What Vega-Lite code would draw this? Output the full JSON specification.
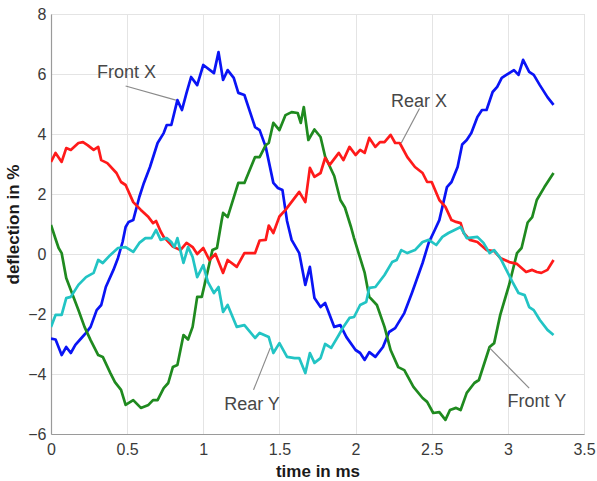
{
  "$schema": "https://vega.github.io/schema/vega-lite/v6.json",
  "width": 533,
  "height": 420,
  "autosize": {"type": "none"},
  "padding": {"left": 51, "top": 14, "right": 13, "bottom": 47},
  "background": "white",
  "config": {
    "view": {"stroke": "#cccccc", "strokeWidth": 1},
    "font": "Liberation Sans",
    "axis": {
      "grid": true, "gridColor": "#e4e4e4", "gridWidth": 1,
      "domainColor": "#9a9a9a", "domainWidth": 1.2,
      "ticks": false, "labelFlush": false, "labelOverlap": false,
      "labelFont": "Liberation Sans", "labelFontSize": 16, "labelColor": "#3a3a3a",
      "titleFont": "Liberation Sans", "titleFontSize": 17, "titleFontWeight": "bold", "titleColor": "#1a1a1a"
    }
  },
  "datasets": {
    "series": [
      {"s":"Front X","t":0,"v":-2.82},{"s":"Front X","t":0.03,"v":-2.85},{"s":"Front X","t":0.07,"v":-3.37},{"s":"Front X","t":0.1,"v":-3.1},{"s":"Front X","t":0.13,"v":-3.3},{"s":"Front X","t":0.16,"v":-3.03},{"s":"Front X","t":0.2,"v":-2.8},{"s":"Front X","t":0.23,"v":-2.63},{"s":"Front X","t":0.26,"v":-2.43},{"s":"Front X","t":0.3,"v":-1.87},{"s":"Front X","t":0.33,"v":-1.7},{"s":"Front X","t":0.36,"v":-1.1},{"s":"Front X","t":0.41,"v":-0.53},{"s":"Front X","t":0.44,"v":-0.13},{"s":"Front X","t":0.47,"v":0.4},{"s":"Front X","t":0.49,"v":0.9},{"s":"Front X","t":0.51,"v":1.07},{"s":"Front X","t":0.54,"v":1.13},{"s":"Front X","t":0.58,"v":1.9},{"s":"Front X","t":0.61,"v":2.37},{"s":"Front X","t":0.65,"v":2.9},{"s":"Front X","t":0.7,"v":3.7},{"s":"Front X","t":0.74,"v":4.03},{"s":"Front X","t":0.76,"v":4.3},{"s":"Front X","t":0.79,"v":4.3},{"s":"Front X","t":0.83,"v":5.13},{"s":"Front X","t":0.86,"v":4.8},{"s":"Front X","t":0.89,"v":5.37},{"s":"Front X","t":0.92,"v":5.9},{"s":"Front X","t":0.96,"v":5.63},{"s":"Front X","t":1.0,"v":6.3},{"s":"Front X","t":1.07,"v":6.03},{"s":"Front X","t":1.1,"v":6.73},{"s":"Front X","t":1.13,"v":5.8},{"s":"Front X","t":1.16,"v":6.13},{"s":"Front X","t":1.2,"v":5.87},{"s":"Front X","t":1.23,"v":5.37},{"s":"Front X","t":1.27,"v":5.3},{"s":"Front X","t":1.34,"v":4.23},{"s":"Front X","t":1.37,"v":4.13},{"s":"Front X","t":1.41,"v":3.57},{"s":"Front X","t":1.46,"v":2.37},{"s":"Front X","t":1.49,"v":2.2},{"s":"Front X","t":1.52,"v":2.13},{"s":"Front X","t":1.55,"v":1.1},{"s":"Front X","t":1.58,"v":0.47},{"s":"Front X","t":1.63,"v":0.03},{"s":"Front X","t":1.67,"v":-1.03},{"s":"Front X","t":1.7,"v":-0.43},{"s":"Front X","t":1.73,"v":-1.47},{"s":"Front X","t":1.77,"v":-1.77},{"s":"Front X","t":1.8,"v":-1.63},{"s":"Front X","t":1.86,"v":-2.43},{"s":"Front X","t":1.9,"v":-2.37},{"s":"Front X","t":1.94,"v":-2.77},{"s":"Front X","t":2.0,"v":-3.2},{"s":"Front X","t":2.03,"v":-3.3},{"s":"Front X","t":2.06,"v":-3.53},{"s":"Front X","t":2.09,"v":-3.27},{"s":"Front X","t":2.13,"v":-3.43},{"s":"Front X","t":2.18,"v":-3.1},{"s":"Front X","t":2.22,"v":-2.6},{"s":"Front X","t":2.26,"v":-2.47},{"s":"Front X","t":2.32,"v":-1.97},{"s":"Front X","t":2.37,"v":-1.3},{"s":"Front X","t":2.44,"v":-0.3},{"s":"Front X","t":2.48,"v":0.37},{"s":"Front X","t":2.52,"v":0.8},{"s":"Front X","t":2.55,"v":1.13},{"s":"Front X","t":2.6,"v":2.23},{"s":"Front X","t":2.63,"v":2.4},{"s":"Front X","t":2.67,"v":2.9},{"s":"Front X","t":2.7,"v":3.65},{"s":"Front X","t":2.73,"v":3.8},{"s":"Front X","t":2.76,"v":4.03},{"s":"Front X","t":2.8,"v":4.57},{"s":"Front X","t":2.83,"v":4.8},{"s":"Front X","t":2.86,"v":4.8},{"s":"Front X","t":2.9,"v":5.4},{"s":"Front X","t":2.93,"v":5.57},{"s":"Front X","t":2.96,"v":5.87},{"s":"Front X","t":2.99,"v":5.97},{"s":"Front X","t":3.04,"v":6.13},{"s":"Front X","t":3.07,"v":5.97},{"s":"Front X","t":3.1,"v":6.47},{"s":"Front X","t":3.14,"v":6.07},{"s":"Front X","t":3.17,"v":5.97},{"s":"Front X","t":3.21,"v":5.63},{"s":"Front X","t":3.26,"v":5.23},{"s":"Front X","t":3.3,"v":4.97},

      {"s":"Front Y","t":0,"v":0.97},{"s":"Front Y","t":0.03,"v":0.5},{"s":"Front Y","t":0.05,"v":0.2},{"s":"Front Y","t":0.07,"v":0.03},{"s":"Front Y","t":0.1,"v":-0.8},{"s":"Front Y","t":0.13,"v":-1.2},{"s":"Front Y","t":0.18,"v":-1.87},{"s":"Front Y","t":0.22,"v":-2.43},{"s":"Front Y","t":0.26,"v":-2.87},{"s":"Front Y","t":0.31,"v":-3.37},{"s":"Front Y","t":0.34,"v":-3.43},{"s":"Front Y","t":0.39,"v":-3.97},{"s":"Front Y","t":0.42,"v":-4.27},{"s":"Front Y","t":0.46,"v":-4.53},{"s":"Front Y","t":0.49,"v":-5.03},{"s":"Front Y","t":0.54,"v":-4.87},{"s":"Front Y","t":0.59,"v":-5.13},{"s":"Front Y","t":0.64,"v":-5.03},{"s":"Front Y","t":0.67,"v":-4.87},{"s":"Front Y","t":0.7,"v":-4.87},{"s":"Front Y","t":0.74,"v":-4.47},{"s":"Front Y","t":0.77,"v":-4.3},{"s":"Front Y","t":0.8,"v":-3.77},{"s":"Front Y","t":0.83,"v":-3.7},{"s":"Front Y","t":0.87,"v":-2.7},{"s":"Front Y","t":0.9,"v":-2.85},{"s":"Front Y","t":0.93,"v":-2.43},{"s":"Front Y","t":0.96,"v":-1.43},{"s":"Front Y","t":0.99,"v":-1.43},{"s":"Front Y","t":1.02,"v":-0.77},{"s":"Front Y","t":1.06,"v":0.13},{"s":"Front Y","t":1.09,"v":0.2},{"s":"Front Y","t":1.12,"v":1.1},{"s":"Front Y","t":1.13,"v":1.37},{"s":"Front Y","t":1.16,"v":1.23},{"s":"Front Y","t":1.23,"v":2.37},{"s":"Front Y","t":1.27,"v":2.37},{"s":"Front Y","t":1.34,"v":3.23},{"s":"Front Y","t":1.37,"v":3.23},{"s":"Front Y","t":1.41,"v":3.63},{"s":"Front Y","t":1.43,"v":3.7},{"s":"Front Y","t":1.46,"v":4.37},{"s":"Front Y","t":1.5,"v":4.13},{"s":"Front Y","t":1.54,"v":4.63},{"s":"Front Y","t":1.58,"v":4.73},{"s":"Front Y","t":1.62,"v":4.7},{"s":"Front Y","t":1.64,"v":4.37},{"s":"Front Y","t":1.66,"v":4.9},{"s":"Front Y","t":1.69,"v":3.8},{"s":"Front Y","t":1.73,"v":4.15},{"s":"Front Y","t":1.77,"v":3.9},{"s":"Front Y","t":1.8,"v":3.25},{"s":"Front Y","t":1.86,"v":2.6},{"s":"Front Y","t":1.9,"v":1.8},{"s":"Front Y","t":1.93,"v":1.55},{"s":"Front Y","t":1.97,"v":0.9},{"s":"Front Y","t":1.99,"v":0.53},{"s":"Front Y","t":2.02,"v":0.03},{"s":"Front Y","t":2.06,"v":-0.63},{"s":"Front Y","t":2.09,"v":-1.43},{"s":"Front Y","t":2.14,"v":-1.7},{"s":"Front Y","t":2.19,"v":-2.43},{"s":"Front Y","t":2.23,"v":-3.2},{"s":"Front Y","t":2.28,"v":-3.77},{"s":"Front Y","t":2.32,"v":-3.87},{"s":"Front Y","t":2.38,"v":-4.43},{"s":"Front Y","t":2.44,"v":-4.8},{"s":"Front Y","t":2.47,"v":-4.93},{"s":"Front Y","t":2.51,"v":-5.3},{"s":"Front Y","t":2.55,"v":-5.27},{"s":"Front Y","t":2.59,"v":-5.53},{"s":"Front Y","t":2.62,"v":-5.2},{"s":"Front Y","t":2.66,"v":-5.13},{"s":"Front Y","t":2.69,"v":-5.2},{"s":"Front Y","t":2.73,"v":-4.63},{"s":"Front Y","t":2.78,"v":-4.3},{"s":"Front Y","t":2.81,"v":-4.2},{"s":"Front Y","t":2.88,"v":-3.1},{"s":"Front Y","t":2.91,"v":-2.97},{"s":"Front Y","t":2.95,"v":-2.03},{"s":"Front Y","t":3.01,"v":-1.0},{"s":"Front Y","t":3.06,"v":0.03},{"s":"Front Y","t":3.09,"v":0.2},{"s":"Front Y","t":3.13,"v":1.05},{"s":"Front Y","t":3.16,"v":1.23},{"s":"Front Y","t":3.19,"v":1.8},{"s":"Front Y","t":3.24,"v":2.23},{"s":"Front Y","t":3.3,"v":2.7},

      {"s":"Rear X","t":0,"v":3.07},{"s":"Rear X","t":0.03,"v":3.37},{"s":"Rear X","t":0.07,"v":3.07},{"s":"Rear X","t":0.1,"v":3.53},{"s":"Rear X","t":0.13,"v":3.47},{"s":"Rear X","t":0.18,"v":3.7},{"s":"Rear X","t":0.21,"v":3.73},{"s":"Rear X","t":0.24,"v":3.63},{"s":"Rear X","t":0.28,"v":3.47},{"s":"Rear X","t":0.31,"v":3.57},{"s":"Rear X","t":0.33,"v":3.13},{"s":"Rear X","t":0.37,"v":3.03},{"s":"Rear X","t":0.43,"v":2.7},{"s":"Rear X","t":0.46,"v":2.4},{"s":"Rear X","t":0.49,"v":2.3},{"s":"Rear X","t":0.54,"v":1.73},{"s":"Rear X","t":0.59,"v":1.47},{"s":"Rear X","t":0.64,"v":1.23},{"s":"Rear X","t":0.67,"v":1.03},{"s":"Rear X","t":0.69,"v":1.1},{"s":"Rear X","t":0.72,"v":0.75},{"s":"Rear X","t":0.74,"v":0.57},{"s":"Rear X","t":0.8,"v":0.25},{"s":"Rear X","t":0.85,"v":0.13},{"s":"Rear X","t":0.89,"v":0.37},{"s":"Rear X","t":0.93,"v":0.23},{"s":"Rear X","t":0.96,"v":0.0},{"s":"Rear X","t":1.0,"v":0.2},{"s":"Rear X","t":1.04,"v":-0.2},{"s":"Rear X","t":1.08,"v":0.0},{"s":"Rear X","t":1.13,"v":-0.63},{"s":"Rear X","t":1.16,"v":-0.2},{"s":"Rear X","t":1.22,"v":-0.43},{"s":"Rear X","t":1.27,"v":0.03},{"s":"Rear X","t":1.34,"v":0.03},{"s":"Rear X","t":1.37,"v":0.45},{"s":"Rear X","t":1.41,"v":0.47},{"s":"Rear X","t":1.43,"v":0.95},{"s":"Rear X","t":1.46,"v":0.7},{"s":"Rear X","t":1.5,"v":1.25},{"s":"Rear X","t":1.54,"v":1.47},{"s":"Rear X","t":1.63,"v":2.07},{"s":"Rear X","t":1.67,"v":1.73},{"s":"Rear X","t":1.7,"v":2.87},{"s":"Rear X","t":1.73,"v":2.57},{"s":"Rear X","t":1.77,"v":2.7},{"s":"Rear X","t":1.8,"v":3.2},{"s":"Rear X","t":1.83,"v":2.97},{"s":"Rear X","t":1.89,"v":3.37},{"s":"Rear X","t":1.92,"v":3.13},{"s":"Rear X","t":1.96,"v":3.57},{"s":"Rear X","t":2.0,"v":3.3},{"s":"Rear X","t":2.03,"v":3.47},{"s":"Rear X","t":2.06,"v":3.37},{"s":"Rear X","t":2.09,"v":3.87},{"s":"Rear X","t":2.13,"v":3.57},{"s":"Rear X","t":2.16,"v":3.73},{"s":"Rear X","t":2.19,"v":3.73},{"s":"Rear X","t":2.23,"v":3.97},{"s":"Rear X","t":2.26,"v":3.7},{"s":"Rear X","t":2.29,"v":3.7},{"s":"Rear X","t":2.34,"v":3.23},{"s":"Rear X","t":2.39,"v":2.9},{"s":"Rear X","t":2.44,"v":2.7},{"s":"Rear X","t":2.47,"v":2.4},{"s":"Rear X","t":2.5,"v":2.4},{"s":"Rear X","t":2.55,"v":1.8},{"s":"Rear X","t":2.59,"v":1.57},{"s":"Rear X","t":2.63,"v":1.13},{"s":"Rear X","t":2.66,"v":1.07},{"s":"Rear X","t":2.69,"v":1.03},{"s":"Rear X","t":2.71,"v":0.7},{"s":"Rear X","t":2.75,"v":0.47},{"s":"Rear X","t":2.8,"v":0.4},{"s":"Rear X","t":2.86,"v":0.13},{"s":"Rear X","t":2.91,"v":0.1},{"s":"Rear X","t":2.95,"v":-0.13},{"s":"Rear X","t":3.01,"v":-0.27},{"s":"Rear X","t":3.06,"v":-0.33},{"s":"Rear X","t":3.12,"v":-0.6},{"s":"Rear X","t":3.16,"v":-0.53},{"s":"Rear X","t":3.19,"v":-0.6},{"s":"Rear X","t":3.22,"v":-0.63},{"s":"Rear X","t":3.26,"v":-0.53},{"s":"Rear X","t":3.3,"v":-0.2},

      {"s":"Rear Y","t":0,"v":-2.43},{"s":"Rear Y","t":0.03,"v":-2.03},{"s":"Rear Y","t":0.07,"v":-2.03},{"s":"Rear Y","t":0.1,"v":-1.47},{"s":"Rear Y","t":0.13,"v":-1.43},{"s":"Rear Y","t":0.18,"v":-1.03},{"s":"Rear Y","t":0.23,"v":-0.77},{"s":"Rear Y","t":0.28,"v":-0.63},{"s":"Rear Y","t":0.31,"v":-0.2},{"s":"Rear Y","t":0.34,"v":-0.3},{"s":"Rear Y","t":0.39,"v":-0.03},{"s":"Rear Y","t":0.44,"v":0.2},{"s":"Rear Y","t":0.49,"v":0.23},{"s":"Rear Y","t":0.54,"v":0.07},{"s":"Rear Y","t":0.58,"v":0.37},{"s":"Rear Y","t":0.62,"v":0.53},{"s":"Rear Y","t":0.66,"v":0.53},{"s":"Rear Y","t":0.69,"v":0.8},{"s":"Rear Y","t":0.72,"v":0.47},{"s":"Rear Y","t":0.76,"v":0.53},{"s":"Rear Y","t":0.79,"v":0.4},{"s":"Rear Y","t":0.81,"v":0.23},{"s":"Rear Y","t":0.83,"v":0.53},{"s":"Rear Y","t":0.87,"v":-0.3},{"s":"Rear Y","t":0.9,"v":0.23},{"s":"Rear Y","t":0.93,"v":-0.1},{"s":"Rear Y","t":0.96,"v":-0.77},{"s":"Rear Y","t":1.0,"v":-0.37},{"s":"Rear Y","t":1.03,"v":-0.93},{"s":"Rear Y","t":1.07,"v":-1.3},{"s":"Rear Y","t":1.1,"v":-1.1},{"s":"Rear Y","t":1.13,"v":-1.93},{"s":"Rear Y","t":1.16,"v":-1.7},{"s":"Rear Y","t":1.22,"v":-2.43},{"s":"Rear Y","t":1.27,"v":-2.37},{"s":"Rear Y","t":1.34,"v":-2.8},{"s":"Rear Y","t":1.37,"v":-2.63},{"s":"Rear Y","t":1.43,"v":-2.77},{"s":"Rear Y","t":1.46,"v":-3.3},{"s":"Rear Y","t":1.5,"v":-2.97},{"s":"Rear Y","t":1.55,"v":-3.43},{"s":"Rear Y","t":1.6,"v":-3.47},{"s":"Rear Y","t":1.63,"v":-3.47},{"s":"Rear Y","t":1.67,"v":-3.97},{"s":"Rear Y","t":1.7,"v":-3.3},{"s":"Rear Y","t":1.73,"v":-3.63},{"s":"Rear Y","t":1.77,"v":-3.47},{"s":"Rear Y","t":1.8,"v":-3.0},{"s":"Rear Y","t":1.84,"v":-3.13},{"s":"Rear Y","t":1.89,"v":-2.7},{"s":"Rear Y","t":1.92,"v":-2.43},{"s":"Rear Y","t":1.96,"v":-2.13},{"s":"Rear Y","t":1.99,"v":-2.1},{"s":"Rear Y","t":2.03,"v":-1.7},{"s":"Rear Y","t":2.07,"v":-1.6},{"s":"Rear Y","t":2.09,"v":-1.13},{"s":"Rear Y","t":2.13,"v":-1.1},{"s":"Rear Y","t":2.19,"v":-0.7},{"s":"Rear Y","t":2.24,"v":-0.27},{"s":"Rear Y","t":2.27,"v":-0.2},{"s":"Rear Y","t":2.3,"v":0.13},{"s":"Rear Y","t":2.34,"v":0.03},{"s":"Rear Y","t":2.39,"v":0.13},{"s":"Rear Y","t":2.44,"v":0.4},{"s":"Rear Y","t":2.48,"v":0.47},{"s":"Rear Y","t":2.53,"v":0.3},{"s":"Rear Y","t":2.57,"v":0.57},{"s":"Rear Y","t":2.61,"v":0.7},{"s":"Rear Y","t":2.65,"v":0.8},{"s":"Rear Y","t":2.69,"v":0.9},{"s":"Rear Y","t":2.73,"v":0.53},{"s":"Rear Y","t":2.8,"v":0.57},{"s":"Rear Y","t":2.84,"v":0.37},{"s":"Rear Y","t":2.88,"v":0.03},{"s":"Rear Y","t":2.91,"v":0.13},{"s":"Rear Y","t":2.95,"v":-0.13},{"s":"Rear Y","t":2.99,"v":-0.53},{"s":"Rear Y","t":3.03,"v":-0.93},{"s":"Rear Y","t":3.07,"v":-1.3},{"s":"Rear Y","t":3.11,"v":-1.37},{"s":"Rear Y","t":3.14,"v":-1.77},{"s":"Rear Y","t":3.17,"v":-1.87},{"s":"Rear Y","t":3.21,"v":-2.2},{"s":"Rear Y","t":3.26,"v":-2.53},{"s":"Rear Y","t":3.3,"v":-2.7}
    ],
    "labels": [
      {"label": "Front X", "t": 0.496, "v": 6.03, "t1": 0.49, "v1": 5.6, "t2": 0.82, "v2": 5.13},
      {"label": "Rear X", "t": 2.416, "v": 5.07, "t1": 2.42, "v1": 4.85, "t2": 2.3, "v2": 3.7},
      {"label": "Rear Y", "t": 1.32, "v": -5.03, "t1": 1.33, "v1": -4.53, "t2": 1.44, "v2": -3.13},
      {"label": "Front Y", "t": 3.19, "v": -4.93, "t1": 3.14, "v1": -4.47, "t2": 2.88, "v2": -3.13}
    ]
  },
  "layer": [
    {
      "data": {"name": "series"},
      "mark": {"type": "line", "strokeWidth": 2.7, "strokeJoin": "round", "clip": true},
      "encoding": {
        "x": {"field": "t", "type": "quantitative", "title": "time in ms",
              "scale": {"domain": [0, 3.5], "nice": false},
              "axis": {"values": [0, 0.5, 1, 1.5, 2, 2.5, 3, 3.5], "format": "~g", "labelPadding": 7, "titlePadding": 6}},
        "y": {"field": "v", "type": "quantitative", "title": "deflection in %",
              "scale": {"domain": [-6, 8], "nice": false},
              "axis": {"values": [-6, -4, -2, 0, 2, 4, 6, 8], "format": "d", "labelPadding": 5, "titlePadding": 5}},
        "color": {"field": "s", "type": "nominal", "legend": null,
                  "scale": {"domain": ["Front X", "Front Y", "Rear X", "Rear Y"], "range": ["#0a14f5", "#1f8a1f", "#ff1a1a", "#22c4c4"]}},
        "order": {"field": "t", "type": "quantitative"}
      }
    },
    {
      "data": {"name": "labels"},
      "mark": {"type": "rule", "color": "#8a8a8a", "strokeWidth": 1.2},
      "encoding": {
        "x": {"field": "t1", "type": "quantitative"},
        "y": {"field": "v1", "type": "quantitative"},
        "x2": {"field": "t2"},
        "y2": {"field": "v2"}
      }
    },
    {
      "data": {"name": "labels"},
      "mark": {"type": "text", "fontSize": 18, "color": "#474747", "font": "Liberation Sans", "align": "center", "baseline": "middle"},
      "encoding": {
        "x": {"field": "t", "type": "quantitative"},
        "y": {"field": "v", "type": "quantitative"},
        "text": {"field": "label"}
      }
    }
  ]
}
